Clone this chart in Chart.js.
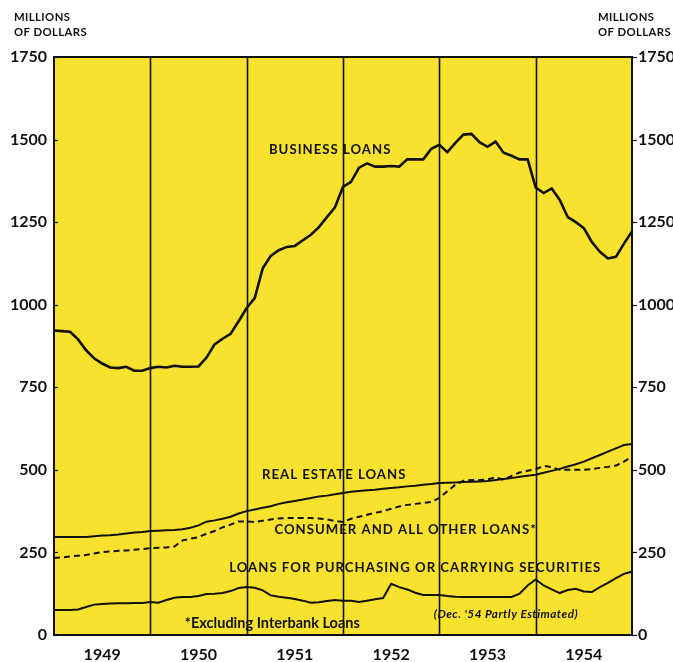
<!DOCTYPE html>
<html>
<head>
<meta charset="utf-8">
<script src="https://cdn.jsdelivr.net/npm/chart.js@4"></script>
<style>
  html, body { margin: 0; padding: 0; background: #ffffff; }
  #wrap { width: 673px; height: 662px; position: relative; }
</style>
</head>
<body>
<div id="wrap"><canvas id="c"></canvas></div>
<script>
// Months from Jan 1949 (0) to end of 1954 (72)
const months = Array.from({length: 73}, (_, i) => i);
const yearLabels = ['1949', '1950', '1951', '1952', '1953', '1954'];
const yTicks = [0, 250, 500, 750, 1000, 1250, 1500, 1750];

const businessLoans = [
  922, 920, 918, 895, 862, 838, 822, 810, 808, 812, 800, 800,
  808, 812, 810, 815, 812, 812, 813, 840, 880, 897, 912, 950,
  990, 1020, 1110, 1148, 1165, 1175, 1178, 1195, 1212, 1235, 1265, 1295,
  1357, 1372, 1415, 1428, 1418, 1418, 1420, 1418, 1440, 1440, 1440, 1472,
  1484, 1462, 1490, 1515, 1517, 1492, 1478, 1494, 1460, 1451, 1440, 1440,
  1355, 1338, 1352, 1317, 1265, 1250, 1232, 1190, 1160, 1140, 1145, 1185,
  1222
];
const realEstateLoans = [
  297, 297, 297, 297, 297, 299, 301, 302, 304, 307, 310, 312,
  315, 316, 317, 318, 320, 325, 332, 343, 347, 352, 358, 368,
  375, 380, 385, 390, 397, 402, 406, 410, 415, 419, 422, 426,
  430, 434, 436, 438, 440, 443, 445, 447, 450, 452, 455, 457,
  460, 461, 462, 463, 464, 465, 466, 469, 472, 475, 479, 482,
  485, 491, 497, 503, 510, 517, 525, 535, 545, 555, 565, 575,
  578
];
const consumerLoans = [
  233, 235, 238, 240, 242, 247, 251, 253, 255, 256, 258, 260,
  263, 264, 265, 268, 286, 292, 296, 307, 315, 326, 334, 344,
  344, 342, 346, 350, 353, 354, 354, 354, 354, 353, 350, 345,
  342, 352, 358, 364, 370, 375, 382, 389, 394, 397, 400, 403,
  415, 435, 455, 467, 469, 469, 471, 478, 470, 482, 492, 497,
  502, 512, 508, 500, 500, 500, 500, 502, 506, 509, 513, 525,
  540
];
const securitiesLoans = [
  76, 76, 76, 77, 85, 92, 94, 95, 96, 96, 97, 97,
  100, 98, 106, 113, 115, 115, 118, 124, 125, 127, 133, 142,
  145, 143, 135, 120, 116, 113, 109, 104, 98, 99, 103, 106,
  104, 104, 100, 104, 108, 112, 155, 145, 138, 128, 121, 121,
  121, 118, 116, 115, 115, 115, 115, 115, 115, 115, 125, 150,
  168, 150, 138, 127, 136, 140, 132, 130, 145, 158, 172, 185,
  192
];

const FONT = 'Lato, "DejaVu Sans", sans-serif';
const INK = '#111111';
const YELLOW = '#f8e22e';

function pts(arr) { return arr.map((v, i) => ({x: months[i], y: v})); }

const annotations = [
  {text: 'BUSINESS LOANS', x: 34.4, y: 1469, style: 'caps'},
  {text: 'REAL ESTATE LOANS', x: 34.9, y: 484, style: 'caps'},
  {text: 'CONSUMER AND ALL OTHER LOANS*', x: 43.8, y: 318, style: 'caps'},
  {text: 'LOANS FOR PURCHASING OR CARRYING SECURITIES', x: 45.0, y: 203, style: 'caps'},
  {text: '*Excluding Interbank Loans', x: 27.2, y: 36, style: 'plain'},
  {text: "(Dec. '54 Partly Estimated)", x: 56.3, y: 64, style: 'italic'}
];

const decor = {
  id: 'decor',
  beforeDraw(chart) {
    const {ctx, chartArea: a} = chart;
    ctx.save();
    ctx.fillStyle = YELLOW;
    ctx.fillRect(a.left, a.top, a.right - a.left, a.bottom - a.top);
    ctx.restore();
  },
  afterDatasetsDraw(chart) {
    const {ctx, chartArea: a} = chart;
    const xs = chart.scales.x, ys = chart.scales.y;
    ctx.save();
    // year boundary lines
    ctx.strokeStyle = INK;
    ctx.lineWidth = 1.6;
    for (let m = 12; m < 72; m += 12) {
      const px = Math.round(xs.getPixelForValue(m)) + 0.5;
      ctx.beginPath(); ctx.moveTo(px, a.top); ctx.lineTo(px, a.bottom); ctx.stroke();
    }
    // small value ticks
    ctx.lineWidth = 1.2;
    yTicks.forEach(v => {
      const py = Math.round(ys.getPixelForValue(v)) + 0.5;
      ctx.beginPath(); ctx.moveTo(a.left, py); ctx.lineTo(a.left + 4, py); ctx.stroke();
      ctx.beginPath(); ctx.moveTo(a.right, py); ctx.lineTo(a.right + 5, py); ctx.stroke();
    });
    // frame
    ctx.lineWidth = 2;
    ctx.strokeRect(a.left, a.top, a.right - a.left, a.bottom - a.top);
    // annotations
    ctx.fillStyle = INK;
    ctx.textAlign = 'center';
    ctx.textBaseline = 'middle';
    annotations.forEach(an => {
      if (an.style === 'italic') {
        ctx.font = 'italic bold 11.7px ' + FONT;
        ctx.letterSpacing = '0.5px';
      } else if (an.style === 'plain') {
        ctx.font = 'bold 14.5px ' + FONT;
        ctx.letterSpacing = '0px';
      } else {
        ctx.font = 'bold 13.2px ' + FONT;
        ctx.letterSpacing = '1px';
      }
      ctx.fillText(an.text, xs.getPixelForValue(an.x), ys.getPixelForValue(an.y));
    });
    // headers
    ctx.letterSpacing = '0.4px';
    ctx.font = 'bold 11.3px ' + FONT;
    ctx.textAlign = 'left';
    ctx.fillText('MILLIONS', 14, 17);
    ctx.fillText('OF DOLLARS', 14, 32);
    ctx.fillText('MILLIONS', 598, 17);
    ctx.fillText('OF DOLLARS', 598, 32);
    ctx.restore();
  }
};

const lineStyle = {borderColor: INK, pointRadius: 0, tension: 0, fill: false};
const tickFont = {family: FONT, size: 16, weight: 'bold'};

new Chart(document.getElementById('c'), {
  type: 'line',
  data: {
    datasets: [
      Object.assign({label: 'Business Loans', data: pts(businessLoans), borderWidth: 2.6}, lineStyle),
      Object.assign({label: 'Real Estate Loans', data: pts(realEstateLoans), borderWidth: 2}, lineStyle),
      Object.assign({label: 'Consumer and All Other Loans', data: pts(consumerLoans), borderWidth: 2, borderDash: [6, 4]}, lineStyle),
      Object.assign({label: 'Loans for Purchasing or Carrying Securities', data: pts(securitiesLoans), borderWidth: 2}, lineStyle)
    ]
  },
  options: {
    responsive: true,
    maintainAspectRatio: false,
    animation: false,
    layout: {padding: {top: 57, left: 0, right: 0, bottom: 0}},
    plugins: {legend: {display: false}, tooltip: {enabled: false}},
    scales: {
      x: {
        type: 'linear', min: 0, max: 72,
        afterBuildTicks(scale) {
          scale.ticks = yearLabels.map((_, i) => ({value: i * 12 + 6}));
        },
        afterFit(scale) { scale.height = 27; },
        grid: {display: false, drawTicks: false},
        border: {display: false},
        ticks: {
          autoSkip: false, maxRotation: 0, padding: 10,
          color: INK, font: tickFont,
          callback: (v) => yearLabels[Math.round((v - 6) / 12)]
        }
      },
      y: {
        position: 'left', min: 0, max: 1750,
        afterBuildTicks(scale) { scale.ticks = yTicks.map(v => ({value: v})); },
        afterFit(scale) { scale.width = 54; },
        grid: {display: false, drawTicks: false},
        border: {display: false},
        ticks: {padding: 7, color: INK, font: tickFont, callback: (v) => String(v)}
      },
      y2: {
        position: 'right', min: 0, max: 1750,
        afterBuildTicks(scale) { scale.ticks = yTicks.map(v => ({value: v})); },
        afterFit(scale) { scale.width = 41; },
        grid: {display: false, drawTicks: false},
        border: {display: false},
        ticks: {padding: 6, color: INK, font: tickFont, callback: (v) => String(v)}
      }
    }
  },
  plugins: [decor]
});
</script>
</body>
</html>
